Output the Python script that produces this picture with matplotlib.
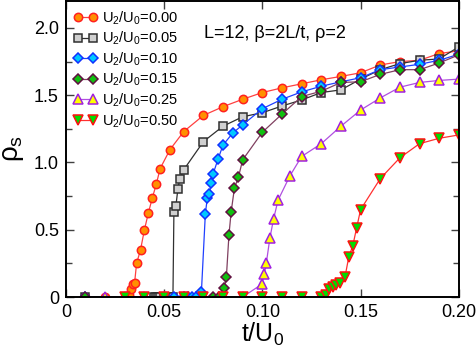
import matplotlib
matplotlib.use('Agg')
import matplotlib.pyplot as plt
from matplotlib.ticker import MultipleLocator, FixedLocator

plt.rcParams['font.family'] = ['Liberation Sans', 'DejaVu Sans']
plt.rcParams['mathtext.fontset'] = 'custom'
plt.rcParams['mathtext.rm'] = 'Liberation Sans'
plt.rcParams['mathtext.it'] = 'Liberation Sans'

# Data
t_000 = [0.01, 0.02, 0.03, 0.032, 0.033, 0.034, 0.035, 0.036, 0.038, 0.040, 0.042, 0.044, 0.046,
         0.048, 0.053, 0.06, 0.07, 0.08, 0.09, 0.10, 0.11, 0.12, 0.13, 0.14, 0.15, 0.16, 0.17,
         0.18, 0.19, 0.20]
r_000 = [0, 0, 0, 0.015, 0.057, 0.10, 0.106, 0.25, 0.35, 0.50, 0.625, 0.736, 0.837,
         0.955, 1.096, 1.23, 1.35, 1.415, 1.47, 1.52, 1.555, 1.585, 1.615, 1.64, 1.667, 1.725, 1.75,
         1.76, 1.81, 1.83]

t_005 = [0.01, 0.045, 0.046, 0.047, 0.048, 0.05, 0.052, 0.0545, 0.055, 0.056, 0.057, 0.058, 0.06,
         0.07, 0.08, 0.09, 0.10, 0.11, 0.12, 0.13, 0.14, 0.15, 0.16, 0.17, 0.18, 0.19, 0.20]
r_005 = [0, 0, 0, 0, 0, 0, 0, 0, 0.635, 0.676, 0.80, 0.88, 0.946,
         1.155, 1.27, 1.34, 1.37, 1.42, 1.465, 1.52, 1.54, 1.62, 1.69, 1.735, 1.76, 1.77, 1.86]

t_010 = [0.01, 0.055, 0.06, 0.062, 0.064, 0.066, 0.069, 0.071, 0.072, 0.073, 0.074, 0.075, 0.0775,
         0.08, 0.085, 0.09, 0.10, 0.11, 0.12, 0.13, 0.14, 0.15, 0.16, 0.17, 0.18, 0.19, 0.20]
r_010 = [0, 0, 0, 0, 0, 0, 0.04, 0.62, 0.736, 0.765, 0.845, 0.918, 1.027,
         1.13, 1.22, 1.28, 1.40, 1.47, 1.525, 1.567, 1.60, 1.63, 1.69, 1.71, 1.73, 1.76, 1.805]

t_015 = [0.01, 0.075, 0.078, 0.0807, 0.0817, 0.083, 0.0841, 0.0858, 0.0878, 0.09, 0.10, 0.11,
         0.12, 0.13, 0.14, 0.15, 0.16, 0.17, 0.18, 0.19, 0.20]
r_015 = [0, 0, 0, 0.07, 0.15, 0.46, 0.63, 0.81, 0.89, 1.02, 1.225, 1.36,
         1.49, 1.53, 1.595, 1.60, 1.655, 1.69, 1.69, 1.74, 1.80]

t_025 = [0.02, 0.03, 0.04, 0.05, 0.06, 0.07, 0.08, 0.09, 0.0997, 0.1010, 0.102, 0.1038, 0.1057,
         0.108, 0.114, 0.12, 0.13, 0.14, 0.15, 0.16, 0.17, 0.18, 0.19, 0.20]
r_025 = [0, 0, 0, 0, 0, 0, 0, 0, 0.095, 0.17, 0.25, 0.435, 0.58,
         0.72, 0.90, 1.045, 1.14, 1.27, 1.39, 1.48, 1.56, 1.595, 1.61, 1.62]

t_050 = [0.03, 0.04, 0.05, 0.06, 0.07, 0.08, 0.09, 0.10, 0.11, 0.12, 0.13, 0.1323, 0.134, 0.136,
         0.1377, 0.1394, 0.142, 0.144, 0.146, 0.148, 0.15, 0.16, 0.17, 0.18, 0.19, 0.20]
r_050 = [0, 0, 0, 0, 0, 0, 0, 0, 0, 0, 0, 0.015, 0.06, 0.076,
         0.089, 0.106, 0.145, 0.30, 0.38, 0.516, 0.65, 0.88, 1.035, 1.14, 1.18, 1.205]

series = [
    (t_000, r_000, r'U$_2$/U$_0$=0.00', 'o', '#ff9000', '#ff2020', '#ff4040'),
    (t_005, r_005, r'U$_2$/U$_0$=0.05', 's', '#d0d0d0', '#303030', '#303030'),
    (t_010, r_010, r'U$_2$/U$_0$=0.10', 'D', '#00c8ff', '#1030ff', '#2040ff'),
    (t_015, r_015, r'U$_2$/U$_0$=0.15', 'D', '#10c010', '#601040', '#804060'),
    (t_025, r_025, r'U$_2$/U$_0$=0.25', '^', '#ffff00', '#a020e0', '#b050e0'),
    (t_050, r_050, r'U$_2$/U$_0$=0.50', 'v', '#00dd00', '#ff1010', '#ff3030'),
]

fig = plt.figure(figsize=(4.77, 3.6), dpi=100)
ax = fig.add_axes([0.138, 0.175, 0.824, 0.822])

for t, r, lab, m, fc, ec, lc in series:
    ms = 6 if m in ('o', 's') else (5 if m == 'D' else 7)
    ax.plot(t, r, color=lc, lw=0.9, marker=m, markersize=ms,
            markerfacecolor=fc, markeredgecolor=ec, markeredgewidth=1.1, label=lab)

ax.set_xlim(0, 0.2)
ax.set_ylim(0, 2.2)
ax.xaxis.set_major_locator(FixedLocator([0, 0.05, 0.10, 0.15, 0.20]))
ax.set_xticklabels(['0', '0.05', '0.10', '0.15', '0.20'])
ax.yaxis.set_major_locator(FixedLocator([0, 0.5, 1.0, 1.5, 2.0]))
ax.set_yticklabels(['0', '0.5', '1.0', '1.5', '2.0'])
ax.yaxis.set_minor_locator(MultipleLocator(0.25))
ax.tick_params(which='both', direction='in', top=True, right=True, labelsize=13, width=1, color='#404040')
ax.tick_params(which='major', length=6, pad=5)
ax.tick_params(which='minor', length=4)
for s in ax.spines.values():
    s.set_linewidth(1.4)

ax.set_xlabel(r't/U$_0$', fontsize=18, labelpad=0)
ax.set_ylabel(r'$\rho_{\rm s}$', fontsize=20, labelpad=6)

ax.text(0.0702, 1.96, 'L=12, β=2L/t, ρ=2', fontsize=13, va='center', ha='left')

ax.legend(loc='upper left', frameon=False, fontsize=10.5, numpoints=2, handlelength=1.6,
          handletextpad=0.3, labelspacing=0.22, borderaxespad=0.3, borderpad=0.25)

plt.savefig('out.png', dpi=100)
